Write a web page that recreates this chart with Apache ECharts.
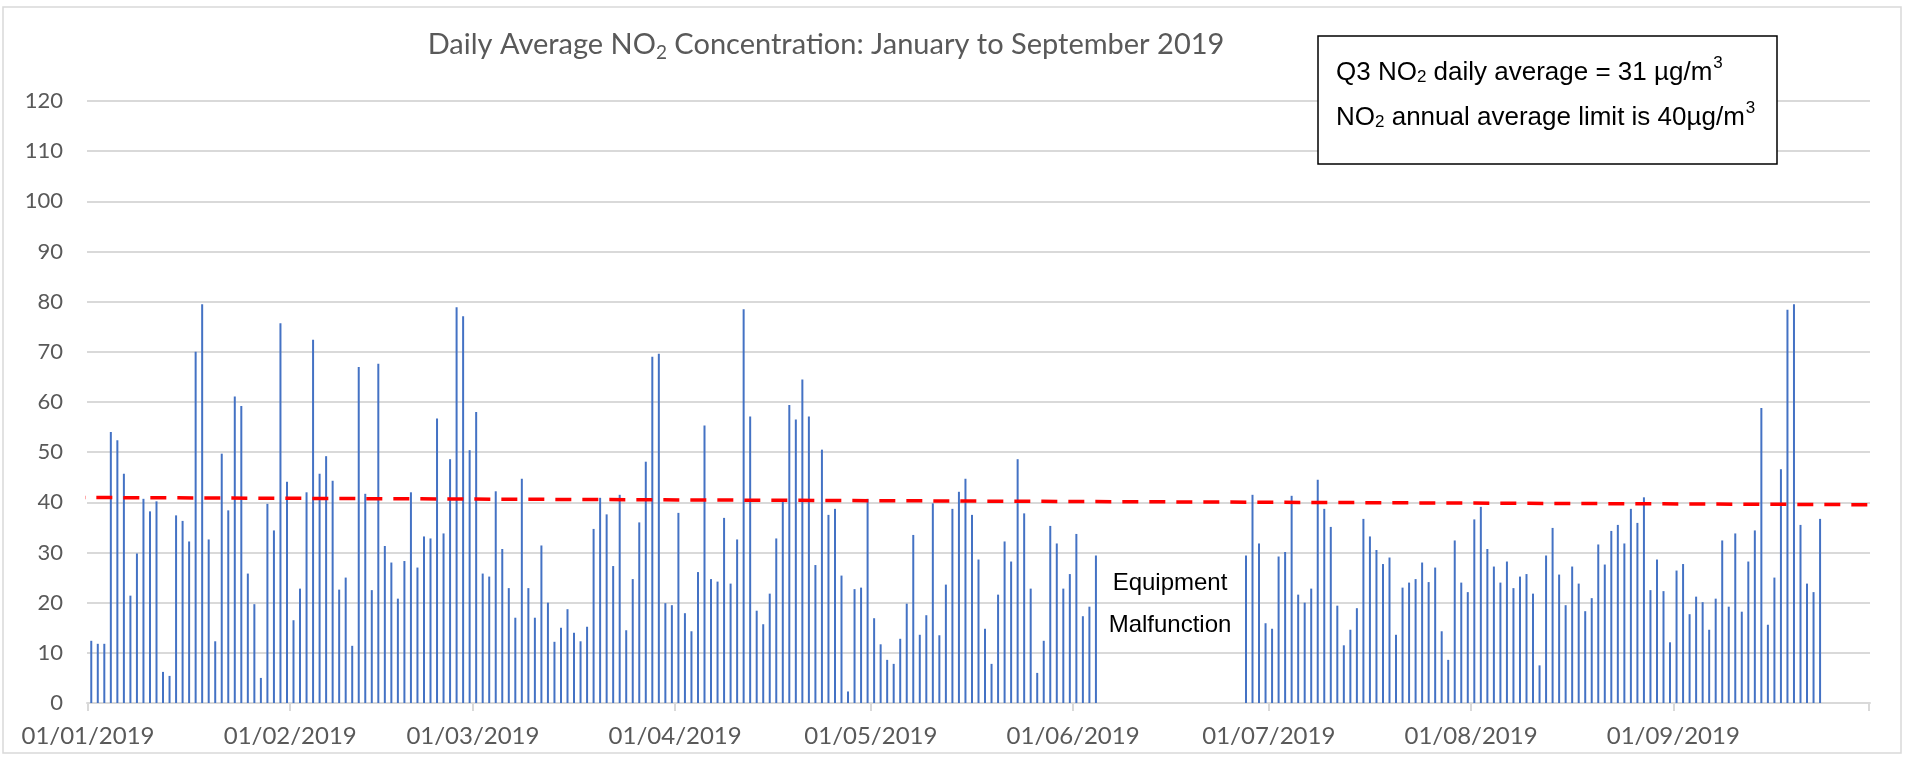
<!DOCTYPE html>
<html>
<head>
<meta charset="utf-8">
<script src="https://cdn.jsdelivr.net/npm/echarts@6/dist/echarts.min.js"></script>
<style>
  html, body { margin: 0; padding: 0; background: #fff; }
  #chart { width: 1905px; height: 758px; }
</style>
</head>
<body>
<div id="chart"></div>
<script>
// ---- Data (µg/m3, one value per day, starting on the 1st of each month) ----
const jan = [12.4, 11.8, 11.8, 54.0, 52.4, 45.7, 21.4, 29.8, 40.7, 38.2, 40.2, 6.2, 5.4, 37.4, 36.3, 32.2, 70.0, 79.5, 32.6, 12.3, 49.7, 38.4, 61.1, 59.2, 25.8, 19.7, 5.0, 39.7, 34.4, 75.7, 44.1];
const feb = [16.5, 22.8, 42.0, 72.4, 45.7, 49.2, 44.3, 22.6, 25.0, 11.4, 67.0, 41.7, 22.5, 67.6, 31.3, 28.0, 20.8, 28.3, 42.0, 27.0, 33.2, 32.8, 56.7, 33.8, 48.6, 78.9, 77.1, 50.4];
const mar = [58.0, 25.8, 25.2, 42.2, 30.7, 22.9, 17.0, 44.7, 22.9, 17.0, 31.4, 20.0, 12.2, 15.0, 18.7, 14.0, 12.3, 15.2, 34.7, 40.9, 37.6, 27.3, 41.5, 14.5, 24.7, 36.0, 48.1, 69.0, 69.6, 19.9, 19.5];
const apr = [37.9, 17.9, 14.3, 26.1, 55.3, 24.7, 24.2, 36.9, 23.8, 32.6, 78.5, 57.1, 18.4, 15.7, 21.8, 32.8, 40.2, 59.4, 56.5, 64.5, 57.1, 27.5, 50.5, 37.5, 38.7, 25.4, 2.3, 22.7, 23.0, 40.7];
const may = [16.9, 11.7, 8.6, 7.8, 12.8, 19.8, 33.5, 13.6, 17.5, 39.8, 13.5, 23.6, 38.7, 42.1, 44.7, 37.5, 28.6, 14.8, 7.8, 21.6, 32.2, 28.2, 48.6, 37.8, 22.8, 6.0, 12.4, 35.3, 31.8, 22.8, 25.7];
const jun = [33.7, 17.3, 19.2, 29.4, null, null, null, null, null, null, null, null, null, null, null, null, null, null, null, null, null, null, null, null, null, null, 29.4, 41.5, 31.8, 15.9];
const jul = [14.8, 29.2, 30.1, 41.3, 21.6, 20.0, 22.8, 44.5, 38.7, 35.1, 19.4, 11.5, 14.6, 18.9, 36.7, 33.2, 30.5, 27.7, 29.0, 13.6, 23.0, 24.0, 24.7, 28.0, 24.1, 27.0, 14.3, 8.6, 32.4, 24.0, 22.1];
const aug = [36.6, 39.1, 30.7, 27.2, 24.0, 28.2, 22.9, 25.2, 25.7, 21.8, 7.5, 29.4, 34.9, 25.6, 19.5, 27.2, 23.8, 18.3, 20.9, 31.6, 27.6, 34.3, 35.5, 31.8, 38.7, 35.9, 41.0, 22.5, 28.6, 22.3, 12.1];
const sep = [26.4, 27.7, 17.7, 21.2, 20.1, 14.6, 20.8, 32.4, 19.2, 33.8, 18.2, 28.2, 34.4, 58.8, 15.6, 25.0, 46.6, 78.4, 79.5, 35.5, 23.8, 22.1, 36.7];
const months = [jan, feb, mar, apr, may, jun, jul, aug, sep];

// Red dashed reference line (hand-drawn in the original): [day offset from 1 Jan, value]
const limitLineStart = [-7, 41.0];
const limitLineEnd = [278.5, 39.5];

const yTicks = { min: 0, max: 120, interval: 10 };
const axisStart = [2019, 0, 1];
const axisEnd = [2019, 9, 1];

const titleParts = ['Daily Average NO', '2', ' Concentration: January to September 2019'];
const boxLine1 = ['Q3 NO', '2', ' daily average = 31 µg/m', '3'];
const boxLine2 = ['NO', '2', ' annual average limit is 40µg/m', '3'];
const noteLines = ['Equipment', 'Malfunction'];

// ---- Build series data ----
const DAY = 86400000;
const data = [];
months.forEach((arr, m) => {
  arr.forEach((v, i) => {
    if (v === null) return;
    const t = new Date(2019, m, i + 1).getTime() + DAY / 2; // Excel date axis centres the bar within the day
    data.push([t, v]);
  });
});
const t0 = new Date(...axisStart).getTime();
const t1 = new Date(...axisEnd).getTime();
const lineData = [
  [t0 + limitLineStart[0] * DAY, limitLineStart[1]],
  [t0 + limitLineEnd[0] * DAY, limitLineEnd[1]]
];

function pad(n) { return n < 10 ? '0' + n : '' + n; }

const boxRich = {
  n: { fontFamily: 'Liberation Sans', fontSize: 26, fill: '#000', lineHeight: 36, verticalAlign: 'middle' },
  s: { fontFamily: 'Liberation Sans', fontSize: 17, fill: '#000', lineHeight: 36, verticalAlign: 'bottom', padding: [0, 0, 5, 0] },
  p: { fontFamily: 'Liberation Sans', fontSize: 17, fill: '#000', lineHeight: 36, verticalAlign: 'top', padding: [0, 0, 0, 1] }
};

const chart = echarts.init(document.getElementById('chart'), null, { renderer: 'canvas' });
const option = {
  animation: false,
  backgroundColor: '#ffffff',
  grid: { left: 87, right: 35, top: 101, bottom: 55, containLabel: false, outerBoundsMode: 'none' },
  xAxis: {
    type: 'time',
    min: t0,
    max: t1,
    splitNumber: 9,
    minInterval: 28 * DAY,
    axisLine: { show: true, lineStyle: { color: '#d9d9d9', width: 2 } },
    axisTick: { show: true, length: 8, lineStyle: { color: '#d9d9d9', width: 2 } },
    splitLine: { show: false },
    axisLabel: {
      color: '#595959',
      fontFamily: 'Lato',
      fontSize: 24,
      margin: 21,
      hideOverlap: false,
      formatter: function (val) {
        const d = new Date(val);
        if (d.getTime() >= t1) return '';
        return pad(d.getDate()) + '/' + pad(d.getMonth() + 1) + '/' + d.getFullYear();
      }
    }
  },
  yAxis: {
    type: 'value',
    min: yTicks.min,
    max: yTicks.max,
    interval: yTicks.interval,
    axisLine: { show: false },
    axisTick: { show: false },
    splitLine: { lineStyle: { color: '#d9d9d9', width: 2 } },
    axisLabel: { color: '#595959', fontFamily: 'Lato', fontSize: 22, margin: 24 }
  },
  series: [
    {
      type: 'bar',
      data: data,
      barWidth: 2,
      itemStyle: { color: '#4472C4' },
      z: 2
    },
    {
      type: 'line',
      data: lineData,
      clip: false,
      symbol: 'none',
      silent: true,
      lineStyle: { color: '#FF0000', width: 3.5, type: [16, 11] },
      z: 3
    }
  ],
  graphic: [
    {
      type: 'rect',
      shape: { x: 1318, y: 36, width: 459, height: 128 },
      style: { fill: '#ffffff', stroke: '#000000', lineWidth: 1.5 },
      z: 10
    },
    {
      type: 'text',
      x: 1336, y: 73,
      style: {
        text: '{n|' + boxLine1[0] + '}{s|' + boxLine1[1] + '}{n|' + boxLine1[2] + '}{p|' + boxLine1[3] + '}',
        verticalAlign: 'middle',
        rich: boxRich
      },
      z: 11
    },
    {
      type: 'text',
      x: 1336, y: 118,
      style: {
        text: '{n|' + boxLine2[0] + '}{s|' + boxLine2[1] + '}{n|' + boxLine2[2] + '}{p|' + boxLine2[3] + '}',
        verticalAlign: 'middle',
        rich: boxRich
      },
      z: 11
    },
    {
      type: 'text',
      x: 826, y: 45,
      style: {
        text: '{n|' + titleParts[0] + '}{s|' + titleParts[1] + '}{n|' + titleParts[2] + '}',
        align: 'center',
        verticalAlign: 'middle',
        rich: {
          n: { fontFamily: 'Lato', fontSize: 29, fill: '#595959', lineHeight: 38, verticalAlign: 'middle' },
          s: { fontFamily: 'Lato', fontSize: 19, fill: '#595959', lineHeight: 38, verticalAlign: 'bottom', padding: [0, 0, 2, 0] }
        }
      },
      z: 11
    },
    {
      type: 'text',
      x: 1170, y: 583,
      style: { text: noteLines[0], align: 'center', verticalAlign: 'middle', fontFamily: 'Liberation Sans', fontSize: 24, fill: '#000' },
      z: 11
    },
    {
      type: 'text',
      x: 1170, y: 625,
      style: { text: noteLines[1], align: 'center', verticalAlign: 'middle', fontFamily: 'Liberation Sans', fontSize: 24, fill: '#000' },
      z: 11
    },
    {
      type: 'rect',
      shape: { x: 3, y: 7, width: 1898, height: 746 },
      style: { fill: 'none', stroke: '#d9d9d9', lineWidth: 1.5 },
      z: 0
    }
  ]
};
chart.setOption(option);
</script>
</body>
</html>
